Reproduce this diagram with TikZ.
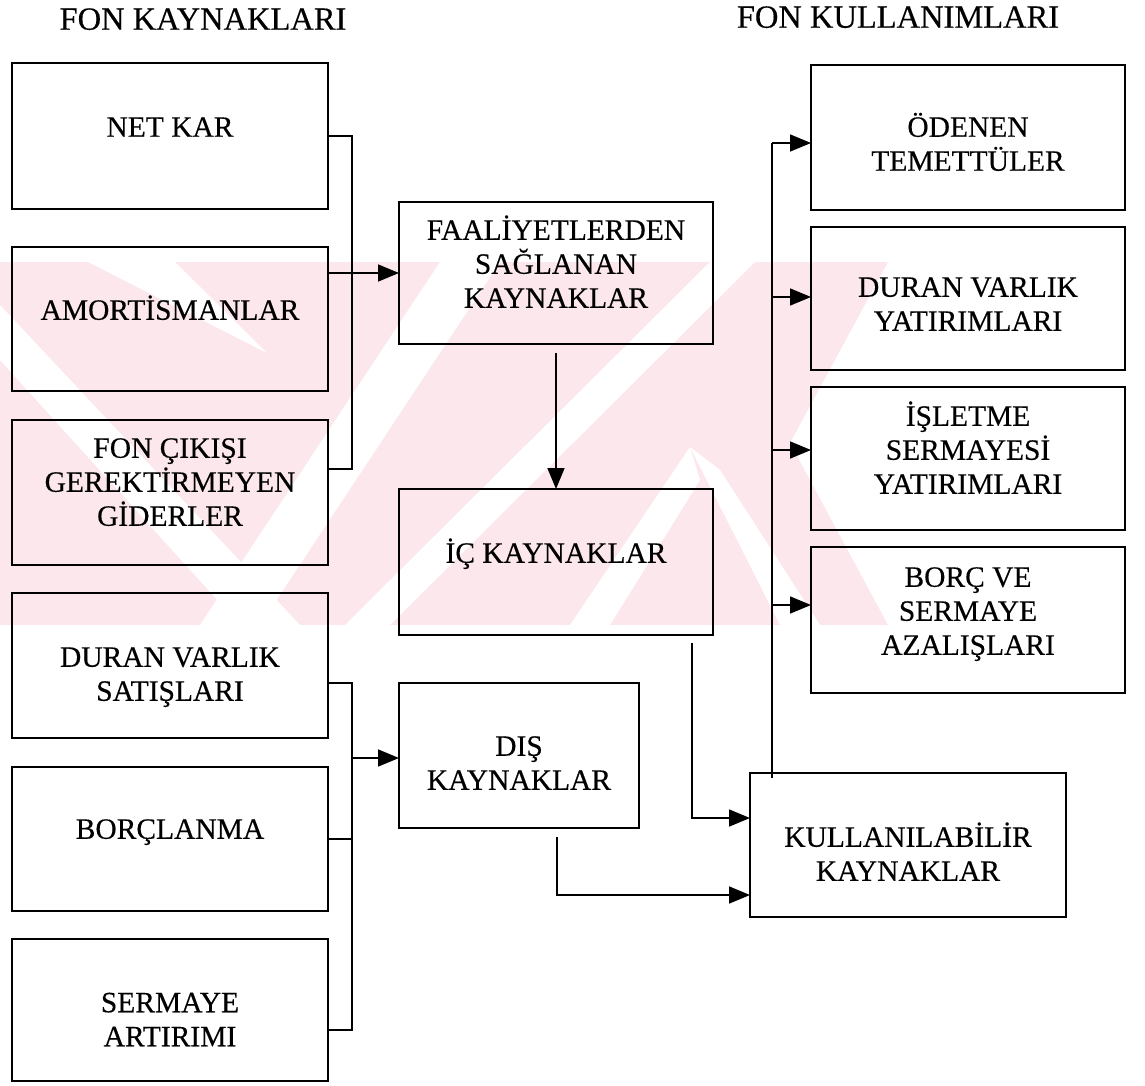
\documentclass[tikz,border=0pt]{standalone}
\usepackage{fontspec}
\setmainfont{Liberation Serif}[FakeBold=0.35]
\usetikzlibrary{arrows.meta}
\definecolor{wmpink}{RGB}{252,232,236}
% one line of a label: its height is the cap height, so node centres sit on the cap middle
\newcommand\capline[1]{\smash{#1}\rule{0pt}{19.5pt}}
\begin{document}
\begin{tikzpicture}[x=1pt,y=-1pt,
  box/.style={draw,line width=2pt,rectangle,inner sep=0pt,outer sep=0pt},
  lbl/.style={align=center,inner sep=0pt,font=\fontsize{29.5}{34}\selectfont},
  ttl/.style={inner sep=0pt,font=\fontsize{32.5}{36}\selectfont},
  wire/.style={line width=1.6pt},
  arr/.style={line width=1.6pt,-{Triangle[length=21pt,width=17pt]}}]
\useasboundingbox (0,0) rectangle (1145,1086);

% faint striped band behind the chart
\begin{scope}
  \clip (0,262) -- (888,262) -- (790,443) -- (888,625) -- (0,625) -- cycle;
  \fill[wmpink] (0,262) rectangle (900,625);
  \fill[white] (88,262) -- (175,262) -- (267,353) -- cycle;
  \fill[white] (0,305) -- (0,360) -- (240,625) -- (300,625) -- cycle;
  \fill[white] (440,262) -- (500,262) -- (260,625) -- (200,625) -- cycle;
  \fill[white] (710,262) -- (755,262) -- (390,625) -- (345,625) -- cycle;
  \fill[white] (690,447) -- (720,470) -- (820,625) -- (780,625) -- cycle;
  \fill[white] (690,447) -- (700,480) -- (610,625) -- (570,625) -- cycle;
\end{scope}

% column titles
\node[ttl] (tsrc) at (203,20) {\capline{FON KAYNAKLARI}};
\node[ttl] (tuse) at (898,18) {\capline{FON KULLANIMLARI}};

% sources of funds
\node[box,minimum width=316pt,minimum height=146pt] (net)   at (170,136)   {};
\node[box,minimum width=316pt,minimum height=144pt] (amort) at (170,319)   {};
\node[box,minimum width=316pt,minimum height=145pt] (fcg)   at (170,492.5) {};
\node[box,minimum width=316pt,minimum height=145pt] (dvs)   at (170,665.5) {};
\node[box,minimum width=316pt,minimum height=144pt] (borc)  at (170,839)   {};
\node[box,minimum width=316pt,minimum height=142pt] (sa)    at (170,1010)  {};

\node[lbl] (tnet)   at (170,127)    {\capline{NET KAR}};
\node[lbl] (tamort) at (170,310)    {\capline{AMORTİSMANLAR}};
\node[lbl] (tfcg)   at (170,482)    {\capline{FON ÇIKIŞI}\\\capline{GEREKTİRMEYEN}\\\capline{GİDERLER}};
\node[lbl] (tdvs)   at (170,674)    {\capline{DURAN VARLIK}\\\capline{SATIŞLARI}};
\node[lbl] (tborc)  at (170,829)    {\capline{BORÇLANMA}};
\node[lbl] (tsa)    at (170,1019.5) {\capline{SERMAYE}\\\capline{ARTIRIMI}};

% grouped sources
\node[box,minimum width=314pt,minimum height=142pt] (faal) at (556,273)   {};
\node[box,minimum width=314pt,minimum height=146pt] (ic)   at (556,562)   {};
\node[box,minimum width=240pt,minimum height=145pt] (dis)  at (519,755.5) {};
\node[box,minimum width=316pt,minimum height=144pt] (kull) at (908,845)   {};

\node[lbl] (tfaal) at (556,264) {\capline{FAALİYETLERDEN}\\\capline{SAĞLANAN}\\\capline{KAYNAKLAR}};
\node[lbl] (tic)   at (556,553) {\capline{İÇ KAYNAKLAR}};
\node[lbl] (tdis)  at (519,763) {\capline{DIŞ}\\\capline{KAYNAKLAR}};
\node[lbl] (tkull) at (908,854) {\capline{KULLANILABİLİR}\\\capline{KAYNAKLAR}};

% uses of funds
\node[box,minimum width=314pt,minimum height=145pt] (oden) at (968,137.5) {};
\node[box,minimum width=314pt,minimum height=143pt] (dvy)  at (968,298.5) {};
\node[box,minimum width=314pt,minimum height=143pt] (isl)  at (968,458.5) {};
\node[box,minimum width=314pt,minimum height=146pt] (bsa)  at (968,620)   {};

\node[lbl] (toden) at (968,144) {\capline{ÖDENEN}\\\capline{TEMETTÜLER}};
\node[lbl] (tdvy)  at (968,304) {\capline{DURAN VARLIK}\\\capline{YATIRIMLARI}};
\node[lbl] (tisl)  at (968,450) {\capline{İŞLETME}\\\capline{SERMAYESİ}\\\capline{YATIRIMLARI}};
\node[lbl] (tbsa)  at (968,611) {\capline{BORÇ VE}\\\capline{SERMAYE}\\\capline{AZALIŞLARI}};

% collecting lines
\coordinate (busa) at (352,0);
\coordinate (busb) at (352,0);
\coordinate (busc) at (772,0);

\draw[wire] (net.east) -- (net.east -| busa) -- ([yshift=23.5pt]fcg.east -| busa) -- ([yshift=23.5pt]fcg.east);
\draw[arr] (faal.west -| amort.east) -- (faal.west);

\draw[wire] ([yshift=-17.5pt]dvs.east) -- ([yshift=-17.5pt]dvs.east -| busb) -- ([yshift=-20pt]sa.east -| busb) -- ([yshift=-20pt]sa.east);
\draw[wire] (borc.east) -- (borc.east -| busb);
\draw[arr] ([yshift=-2.5pt]dis.west -| busb) -- ([yshift=-2.5pt]dis.west);

\draw[arr] ([yshift=-9pt]faal.south) -- (ic.north);
\draw[arr] ([xshift=-21pt,yshift=-8pt]ic.south east) |- ([yshift=27pt]kull.west);
\draw[arr] ([xshift=38pt,yshift=-9pt]dis.south) |- ([yshift=-50pt]kull.west);

\draw[wire] ([yshift=-5pt]kull.north -| busc) -- ([yshift=-5.5pt]oden.west -| busc);
\draw[arr] ([yshift=-5.5pt]oden.west -| busc) -- ([yshift=-5.5pt]oden.west);
\draw[arr] ([yshift=1.5pt]dvy.west -| busc) -- ([yshift=1.5pt]dvy.west);
\draw[arr] ([yshift=8.5pt]isl.west -| busc) -- ([yshift=8.5pt]isl.west);
\draw[arr] ([yshift=15pt]bsa.west -| busc) -- ([yshift=15pt]bsa.west);
\end{tikzpicture}
\end{document}
